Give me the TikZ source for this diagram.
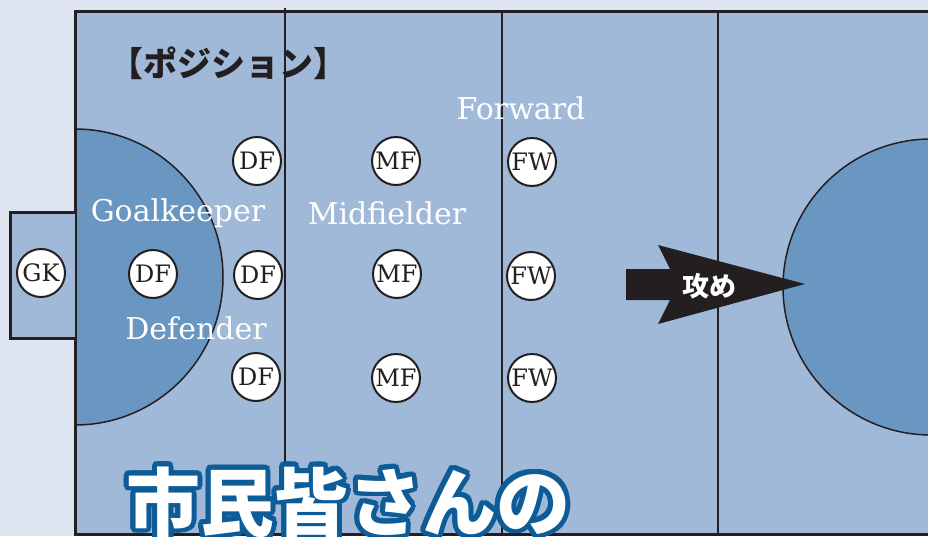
\documentclass[tikz,border=0pt]{standalone}
\usepackage{fontspec}
\newfontfamily\jpfont{Noto Sans CJK JP}
\newfontfamily\jpheavy{Noto Sans CJK JP Black}
\newfontfamily\serif{DejaVu Serif}
\usetikzlibrary{calc}
\definecolor{paper}{HTML}{DFE5F0}
\definecolor{pitch}{HTML}{A1B9D9}
\definecolor{zone}{HTML}{6A96C2}
\definecolor{rim}{HTML}{0D5C97}
\definecolor{ink}{HTML}{231F20}
\tikzset{
  plyr/.style={circle, draw=ink, line width=2pt, fill=white, minimum size=48pt, inner sep=0pt, text=ink, font=\serif\fontsize{24}{24}\selectfont},
  role/.style={text=white, inner sep=0pt, font=\serif\fontsize{30}{30}\selectfont},
  bigtext/.style={inner sep=0pt, anchor=base west, font=\jpheavy\fontsize{74}{74}\selectfont}
}
\newcommand{\plyr}[4]{\node[plyr] (#1) at (#2,#3) {#4};}
\newcommand{\role}[4]{\node[role] (#1) at (#2,#3) {#4};}

\begin{document}
\begin{tikzpicture}[x=1pt,y=-1pt]
        \clip (0,0) rectangle (928,536);
        \fill[paper] (0,0) rectangle (928,536);
        \fill[pitch] (75,11) rectangle (940,534);
        \begin{scope}
            \clip (75,11) rectangle (940,534);
            \filldraw[fill=zone, draw=ink, line width=1.5pt] (75,277) circle (148pt);
            \filldraw[fill=zone, draw=ink, line width=1.5pt] (931,287) circle (148pt);
        \end{scope}
        \draw[ink, line width=2pt] (285,8) -- (285,536);
        \draw[ink, line width=2pt] (502,11) -- (502,536);
        \draw[ink, line width=2pt] (718,11) -- (718,536);
        \draw[ink, line width=3pt] (940,11) -- (75,11) -- (75,534) -- (940,534);
        \filldraw[fill=pitch, draw=ink, line width=3pt] (75,212) -- (10,212) -- (10,338) -- (75,338);
        \node[inner sep=0pt, text=ink, font=\jpfont\bfseries\fontsize{34}{34}\selectfont] (title) at (228,63) {【ポジション】};
        \role{gk}{178}{213}{Goalkeeper}
        \role{df}{196}{328}{Defender}
        \role{mf}{387}{213}{Midfielder}
        \role{fw}{521}{108}{Forward}
        \plyr{GK}{41}{273}{GK}
        \plyr{DFa}{153}{274}{DF}
        \plyr{DFb}{257}{161}{DF}
        \plyr{DFc}{258}{275}{DF}
        \plyr{DFd}{256}{377}{DF}
        \plyr{MFa}{396}{161}{MF}
        \plyr{MFb}{397}{274}{MF}
        \plyr{MFc}{396}{378}{MF}
        \plyr{FWa}{532}{162}{FW}
        \plyr{FWb}{531}{276}{FW}
        \plyr{FWc}{532}{378}{FW}
        \fill[ink] (626,269) -- (670,269) -- (658,245) -- (805,284) -- (658,324) -- (670,300) -- (626,300) -- cycle;
        \node[inner sep=0pt, text=white, font=\jpfont\bfseries\fontsize{27}{27}\selectfont] (attack) at (709,286) {攻め};
        \foreach \a in {0,20,...,340}
            \node[bigtext, text=rim, shift={(\a:5pt)}] at (126,530) {市民皆さんの};
        \node[bigtext, text=white] (slogan) at (126,530) {市民皆さんの};
    \end{tikzpicture}
\end{document}
